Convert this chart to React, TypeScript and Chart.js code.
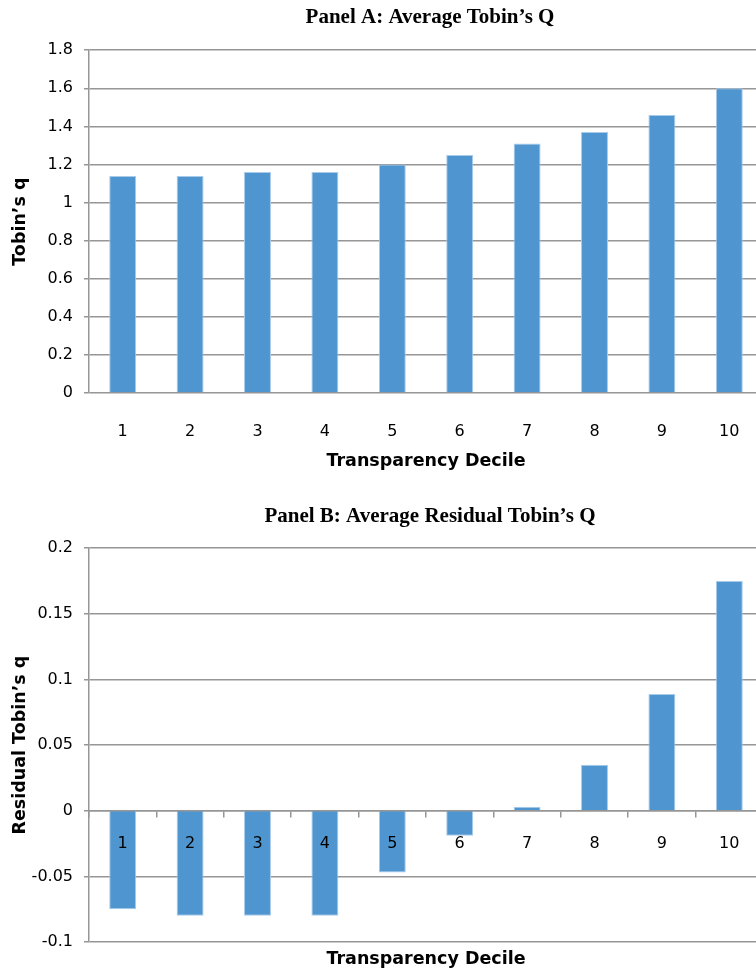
import React, { useEffect, useRef } from "react";
import { Chart, registerables } from "chart.js";

Chart.register(...registerables);

const deciles = ["1", "2", "3", "4", "5", "6", "7", "8", "9", "10"];
const avgTobinsQ = [1.14, 1.14, 1.16, 1.16, 1.2, 1.25, 1.31, 1.37, 1.46, 1.6];
const residualTobinsQ = [-0.075, -0.08, -0.08, -0.08, -0.047, -0.019, 0.003, 0.035, 0.089, 0.175];

const titleA = "Panel A: Average Tobin’s Q";
const titleB = "Panel B: Average Residual Tobin’s Q";
const yTitleA = "Tobin’s q";
const yTitleB = "Residual Tobin’s q";
const xTitle = "Transparency Decile";

const BAR = "#4F96D0";
const BAR_EDGE = "#A8CBEA";
const GRID = "#969696";
const SANS = "'DejaVu Sans', sans-serif";
const SERIF = "'Liberation Serif', 'Times New Roman', serif";

const CW = 860; // canvas width (cropped by container on the right)
const PLOT_LEFT = 89;
const PLOT_RIGHT = 763;

function fmt(v: number) {
  return String(Number(Number(v).toFixed(3)));
}

function rightSpacer() {
  return {
    type: "linear" as const,
    position: "right" as const,
    display: true,
    grid: { display: false },
    border: { display: false },
    ticks: { display: false },
    afterFit: (s: any) => {
      s.width = CW - PLOT_RIGHT;
    },
  };
}

function makeA(canvas: HTMLCanvasElement, H: number) {
  return new Chart(canvas, {
    type: "bar",
    data: {
      labels: deciles,
      datasets: [
        {
          data: avgTobinsQ,
          backgroundColor: BAR,
          borderColor: BAR_EDGE,
          borderWidth: 1,
          categoryPercentage: 1,
          barPercentage: 0.4,
        },
      ],
    },
    options: {
      responsive: false,
      animation: false,
      devicePixelRatio: 1,
      layout: { padding: 0 },
      plugins: {
        legend: { display: false },
        tooltip: { enabled: false },
        title: {
          display: true,
          text: titleA,
          color: "#000",
          font: { family: SERIF, size: 21, weight: "bold" },
          padding: { top: 5, bottom: 20 },
        },
      },
      scales: {
        x: {
          grid: { display: false },
          border: { display: false },
          ticks: { color: "#000", font: { family: SANS, size: 16 }, padding: 21, maxRotation: 0 },
          title: {
            display: true,
            text: xTitle,
            color: "#000",
            font: { family: SANS, size: 17.5, weight: "bold" },
            padding: { top: 0, bottom: 8 },
          },
          afterFit: (s: any) => {
            s.height = H - 393;
          },
        },
        y: {
          min: 0,
          max: 1.8,
          ticks: {
            stepSize: 0.2,
            color: "#000",
            font: { family: SANS, size: 16 },
            padding: 11,
            callback: (v: any) => fmt(v),
          },
          grid: { color: GRID, lineWidth: 1.5, drawTicks: true, tickLength: 5 },
          border: { display: true, color: GRID, width: 1.5 },
          title: {
            display: true,
            text: yTitleA,
            color: "#000",
            font: { family: SANS, size: 17.5, weight: "bold" },
            padding: { top: 10, bottom: 0 },
          },
          afterFit: (s: any) => {
            s.width = PLOT_LEFT;
          },
        },
        yR: rightSpacer(),
      },
    } as any,
  });
}

function makeB(canvas: HTMLCanvasElement, H: number) {
  return new Chart(canvas, {
    type: "bar",
    data: {
      labels: deciles,
      datasets: [
        {
          data: residualTobinsQ,
          backgroundColor: BAR,
          borderColor: BAR_EDGE,
          borderWidth: 1,
          categoryPercentage: 1,
          barPercentage: 0.4,
          xAxisID: "x",
          yAxisID: "y",
        },
      ],
    },
    options: {
      responsive: false,
      animation: false,
      devicePixelRatio: 1,
      layout: { padding: 0 },
      plugins: {
        legend: { display: false },
        tooltip: { enabled: false },
        title: {
          display: true,
          text: titleB,
          color: "#000",
          font: { family: SERIF, size: 21, weight: "bold" },
          padding: { top: 14, bottom: 19 },
        },
      },
      scales: {
        x: {
          grid: { display: false },
          border: { display: false },
          ticks: { display: false },
          title: {
            display: true,
            text: xTitle,
            color: "#000",
            font: { family: SANS, size: 17.5, weight: "bold" },
            padding: { top: 0, bottom: 2 },
          },
          afterFit: (s: any) => {
            s.height = H - 452;
          },
        },
        x2: {
          type: "category",
          labels: deciles,
          position: { y: 0 },
          offset: true,
          grid: { display: true, offset: true, drawOnChartArea: false, drawTicks: true, tickLength: 6, color: GRID, lineWidth: 1.5, z: 1 },
          border: { display: true, color: GRID, width: 1.5, z: 1 },
          ticks: { color: "#000", font: { family: SANS, size: 16 }, padding: 18, maxRotation: 0, z: 2 },
        },
        y: {
          min: -0.1,
          max: 0.2,
          ticks: {
            stepSize: 0.05,
            color: "#000",
            font: { family: SANS, size: 16 },
            padding: 11,
            callback: (v: any) => fmt(v),
          },
          grid: { color: GRID, lineWidth: 1.5, drawTicks: true, tickLength: 5 },
          border: { display: true, color: GRID, width: 1.5 },
          title: {
            display: true,
            text: yTitleB,
            color: "#000",
            font: { family: SANS, size: 17.5, weight: "bold" },
            padding: { top: 10, bottom: 0 },
          },
          afterFit: (s: any) => {
            s.width = PLOT_LEFT;
          },
        },
        yR: rightSpacer(),
      },
    } as any,
  });
}

export default function App() {
  const refA = useRef<HTMLCanvasElement>(null);
  const refB = useRef<HTMLCanvasElement>(null);
  const HA = 480;
  const HB = 482;

  useEffect(() => {
    document.body.style.margin = "0";
    document.body.style.background = "#fff";
    const a = makeA(refA.current!, HA);
    const b = makeB(refB.current!, HB);
    return () => {
      a.destroy();
      b.destroy();
    };
  }, []);

  return (
    <div style={{ position: "relative", width: 756, height: 972, overflow: "hidden", background: "#fff" }}>
      <canvas ref={refA} width={CW} height={HA} style={{ position: "absolute", left: 0, top: 0, width: CW, height: HA }} />
      <canvas ref={refB} width={CW} height={HB} style={{ position: "absolute", left: 0, top: 490, width: CW, height: HB }} />
    </div>
  );
}
